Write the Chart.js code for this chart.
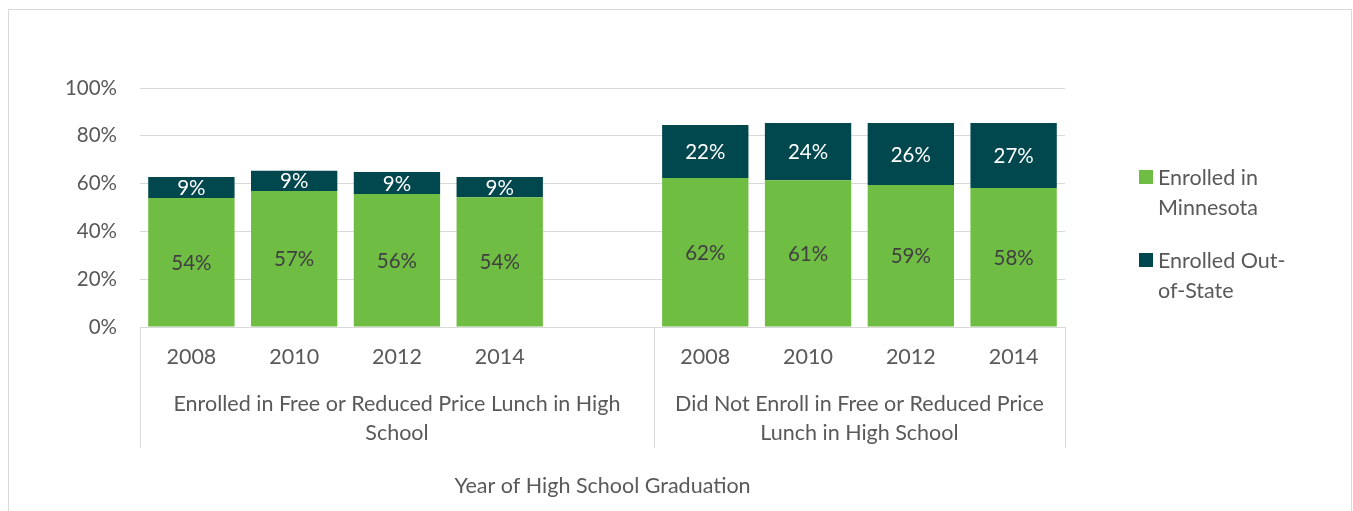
<!DOCTYPE html>
<html>
<head>
<meta charset="utf-8">
<script src="https://cdn.jsdelivr.net/npm/chart.js@4/dist/chart.umd.min.js"></script>
<style>
	html, body { margin: 0; padding: 0; background: #fff; overflow: hidden; }
	#moldura { position: absolute; left: 8px; top: 9px; width: 1342px; height: 520px; border: 1px solid #d9d9d9; }
	#grafico { display: block; }
</style>
</head>
<body>
<div id="moldura">
	<canvas id="grafico" width="1342" height="501"></canvas>
</div>
<script>
var anos = ['2008', '2010', '2012', '2014', '', '2008', '2010', '2012', '2014'];
var grupos = [
	['Enrolled in Free or Reduced Price Lunch in High', 'School'],
	['Did Not Enroll in Free or Reduced Price', 'Lunch in High School']
];
// first slot and slot count of each group
var gruposInicio = [0, 5];
var gruposTamanho = [5, 4];
var matriculadosMN = [54.0, 56.9, 55.6, 54.3, null, 62.3, 61.4, 59.4, 58.2];
var matriculadosFora = [8.8, 8.5, 9.3, 8.5, null, 22.2, 24.0, 26.0, 27.2];
var nomesSeries = [['Enrolled in', 'Minnesota'], ['Enrolled Out-', 'of-State']];
var ticksY = [0, 20, 40, 60, 80, 100];
var tituloX = 'Year of High School Graduation';

var FONTE = 'Lato, "Open Sans", sans-serif';
var TAM = 20.5;
var TAM_X = 21.5;
var CINZA = '#595959';
var VERDE = '#70bd44';
var ESCURO = '#01474e';

var pluginGrupos = {
	id: 'grupos',
	afterDatasetsDraw: function(chart) {
		var ctx = chart.ctx;
		ctx.save();
		ctx.font = TAM + 'px ' + FONTE;
		ctx.textAlign = 'center';
		ctx.textBaseline = 'middle';
		chart.data.datasets.forEach(function(ds, d) {
			var meta = chart.getDatasetMeta(d);
			meta.data.forEach(function(bar, i) {
				var v = ds.data[i];
				if (v === null) return;
				ctx.fillStyle = d === 0 ? '#404040' : '#ffffff';
				ctx.fillText(Math.round(v) + '%', bar.x, (bar.y + bar.base) / 2 + 1);
			});
		});
		ctx.restore();
	},
	afterDraw: function(chart) {
		var ctx = chart.ctx;
		var x = chart.scales.x;
		var area = chart.chartArea;
		var passo = x.getPixelForValue(1) - x.getPixelForValue(0);
		ctx.save();
		ctx.strokeStyle = '#d9d9d9';
		ctx.lineWidth = 1;
		var limites = [0, 5, 9];
		limites.forEach(function(k) {
			var px = Math.round(x.getPixelForValue(0) + (k - 0.5) * passo) + 0.5;
			ctx.beginPath();
			ctx.moveTo(px, area.bottom);
			ctx.lineTo(px, area.bottom + 121);
			ctx.stroke();
		});
		ctx.font = TAM_X + 'px ' + FONTE;
		ctx.fillStyle = CINZA;
		ctx.textAlign = 'center';
		ctx.textBaseline = 'middle';
		grupos.forEach(function(linhas, g) {
			var ini = gruposInicio[g];
			var cx = x.getPixelForValue(0) + (ini + (gruposTamanho[g] - 1) / 2) * passo;
			linhas.forEach(function(t, l) {
				ctx.fillText(t, cx, area.bottom + 77 + l * 29);
			});
		});

		// legenda
		var lx = area.right + 74;
		var ly = [area.top + 89, area.top + 172];
		ctx.textAlign = 'left';
		chart.data.datasets.forEach(function(ds, d) {
			ctx.fillStyle = ds.backgroundColor;
			ctx.fillRect(lx, ly[d] - 7, 14, 14);
			ctx.fillStyle = CINZA;
			nomesSeries[d].forEach(function(t, l) {
				ctx.fillText(t, lx + 19, ly[d] + 1 + l * 30);
			});
		});
		ctx.restore();
	}
};

var grafico = new Chart(document.getElementById('grafico').getContext('2d'), {
	type: 'bar',
	data: {
		labels: anos,
		datasets: [{
			label: nomesSeries[0].join(' '),
			backgroundColor: VERDE,
			data: matriculadosMN,
			barPercentage: 0.84,
			categoryPercentage: 1
		},
		{
			label: nomesSeries[1].join(' '),
			backgroundColor: ESCURO,
			data: matriculadosFora,
			barPercentage: 0.84,
			categoryPercentage: 1
		}]
	},
	options: {
		responsive: false,
		animation: false,
		layout: { padding: { left: 0, top: 78, right: 286, bottom: 0 } },
		plugins: {
			legend: { display: false },
			tooltip: { enabled: false }
		},
		scales: {
			x: {
				stacked: true,
				grid: { display: false },
				border: { display: true, color: '#d9d9d9', width: 1 },
				ticks: { color: CINZA, font: { family: FONTE, size: TAM_X }, padding: 9, maxRotation: 0 },
				title: { display: true, text: tituloX, color: CINZA, font: { family: FONTE, size: TAM_X }, padding: { top: 0, bottom: 12 } },
				afterFit: function(s) { s.height = 184; }
			},
			y: {
				stacked: true,
				min: 0,
				max: 100,
				afterBuildTicks: function(s) { s.ticks = ticksY.map(function(v) { return { value: v }; }); },
				grid: { color: '#d9d9d9', lineWidth: 1, drawTicks: false },
				border: { display: false },
				ticks: { color: CINZA, font: { family: FONTE, size: TAM }, padding: 23, callback: function(v) { return v + '%'; } },
				afterFit: function(s) { s.width = 131; }
			}
		}
	},
	plugins: [pluginGrupos]
});
</script>
</body>
</html>
